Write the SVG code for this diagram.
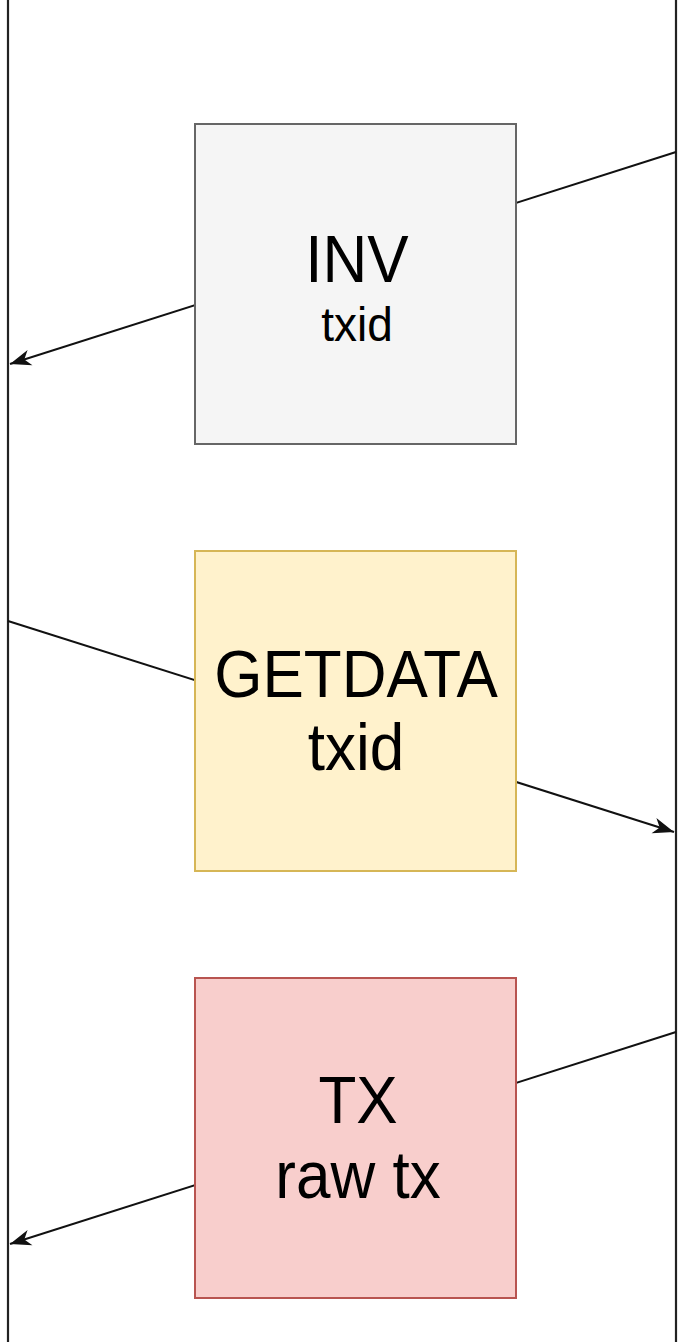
<svg xmlns="http://www.w3.org/2000/svg" width="684" height="1342" viewBox="0 0 684 1342">
  <style>
    .lifeline { stroke: #222222; stroke-width: 2.2; fill: none; }
    .msg { stroke: #111111; stroke-width: 2; fill: none; marker-end: url(#arrow); }
    .box { stroke-width: 2; }
    .label { font-family: "Liberation Sans", Arial, Helvetica, sans-serif; fill: #000000; text-anchor: middle; }
    .big { font-size: 62px; }
    .small { font-size: 46px; }
  </style>
  <defs>
    <marker id="arrow" markerUnits="userSpaceOnUse" viewBox="-24 -10 26 20" refX="0" refY="0" markerWidth="26" markerHeight="20" orient="auto">
      <path d="M0,0 L-21,-8 L-15,0 L-21,8 Z" fill="#111111"/>
    </marker>
  </defs>

  <rect width="684" height="1342" fill="#ffffff"/>

  <!-- participant lifelines -->
  <g id="lifelines">
    <line class="lifeline" x1="8" y1="0" x2="8" y2="1342"/>
    <line class="lifeline" x1="676" y1="0" x2="676" y2="1342"/>
  </g>

  <!-- message arrows between the two peers (drawn under the boxes) -->
  <g id="connectors">
    <line class="msg" x1="676" y1="152" x2="10" y2="364"/>
    <line class="msg" x1="8" y1="621" x2="674" y2="832"/>
    <line class="msg" x1="676" y1="1032" x2="10" y2="1244"/>
  </g>

  <g id="inv">
    <rect class="box" x="195" y="124" width="321" height="320" fill="#f5f5f5" stroke="#666666"/>
    <text class="label big" transform="translate(357,282) scale(1,1.08)">INV</text>
    <text class="label small" transform="translate(357,341) scale(1,1.06)">txid</text>
  </g>

  <g id="getdata">
    <rect class="box" x="195" y="551" width="321" height="320" fill="#fff2cc" stroke="#d6b656"/>
    <text class="label big" transform="translate(356,697) scale(1,1.08)">GETDATA</text>
    <text class="label big" transform="translate(356,770) scale(1,1.08)">txid</text>
  </g>

  <g id="tx">
    <rect class="box" x="195" y="978" width="321" height="320" fill="#f8cecc" stroke="#b85450"/>
    <text class="label big" transform="translate(358,1123) scale(1,1.08)">TX</text>
    <text class="label big" transform="translate(358,1198) scale(1,1.08)">raw tx</text>
  </g>
</svg>
